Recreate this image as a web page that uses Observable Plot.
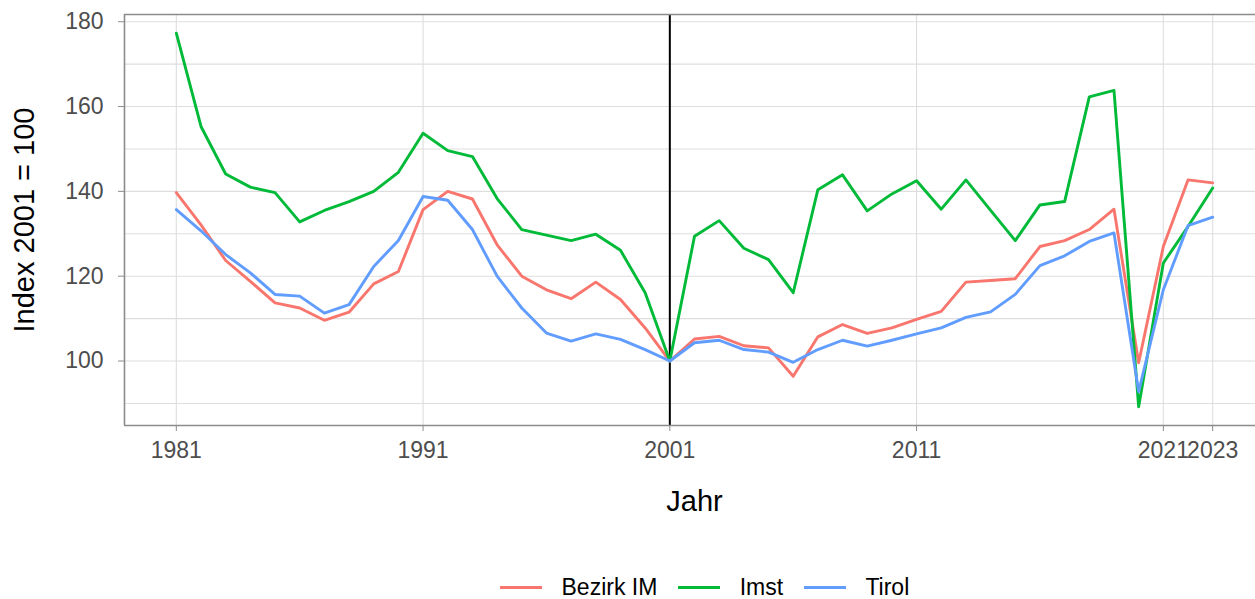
<!DOCTYPE html>
<html>
<head>
<meta charset="utf-8">
<script src="https://cdn.jsdelivr.net/npm/d3@7"></script>
<script src="https://cdn.jsdelivr.net/npm/@observablehq/plot@0.6"></script>
<style>
  html, body { margin: 0; padding: 0; background: #fff; overflow: hidden; }
  body { font-family: "Liberation Sans", Arial, sans-serif; width: 1255px; }
  #legend { position: relative; height: 59px; width: 1255px; }
  #legend .row { position: absolute; left: 500px; top: 35px; display: flex; align-items: center; height: 24px; }
  #legend .key { width: 42px; height: 3px; margin-right: 19.5px; }
  #legend .lab { font-size: 23px; line-height: 24px; color: #000; margin-right: 20.8px; white-space: nowrap; }
</style>
</head>
<body>
<div id="chart"></div>
<div id="legend"></div>
<script>
const years = [1981,1982,1983,1984,1985,1986,1987,1988,1989,1990,
               1991,1992,1993,1994,1995,1996,1997,1998,1999,2000,
               2001,2002,2003,2004,2005,2006,2007,2008,2009,2010,
               2011,2012,2013,2014,2015,2016,2017,2018,2019,2020,
               2021,2022,2023];
const seriesNames = ["Bezirk IM", "Imst", "Tirol"];
const bezirkIM = [139.7,132.1,123.7,118.8,113.7,112.5,109.6,111.5,118.2,121.1,
                  135.7,140.0,138.2,127.4,120.0,116.8,114.7,118.6,114.5,107.8,
                  100.0,105.2,105.8,103.6,103.1,96.4,105.7,108.6,106.5,107.8,
                  109.8,111.7,118.6,119.0,119.4,127.0,128.4,131.0,135.8,99.6,
                  127.0,142.7,142.0];
const imst = [177.3,155.3,144.1,141.0,139.7,132.8,135.5,137.6,140.0,144.5,
              153.7,149.6,148.2,138.3,131.0,129.7,128.4,129.9,126.1,116.1,
              100.0,129.4,133.1,126.6,123.9,116.1,140.4,143.9,135.4,139.4,
              142.5,135.8,142.7,135.5,128.4,136.8,137.6,162.3,163.8,89.2,
              123.1,131.7,140.8];
const tirol = [135.7,130.7,125.1,120.8,115.7,115.3,111.3,113.3,122.3,128.4,
               138.8,137.9,131.0,120.0,112.5,106.6,104.7,106.4,105.1,102.7,
               100.0,104.3,104.9,102.7,102.1,99.7,102.7,104.9,103.5,104.9,
               106.4,107.8,110.3,111.6,115.7,122.5,124.8,128.2,130.2,92.8,
               116.8,131.9,133.9];
const seriesColors = ["#F8766D", "#00BA38", "#619CFF"];
const xTicks = [1981, 1991, 2001, 2011, 2021, 2023];
const yTicks = [100, 120, 140, 160, 180];
const yMinor = [90, 110, 130, 150, 170];
const refYear = 2001;
const xTitle = "Jahr";
const yTitle = "Index 2001 = 100";

const seriesValues = [bezirkIM, imst, tirol];
const data = [];
seriesNames.forEach((s, i) => {
  years.forEach((yr, j) => data.push({series: s, year: yr, value: seriesValues[i][j]}));
});

// ggplot-like 5% expansion
const xExt = d3.extent(years);
const xPad = (xExt[1] - xExt[0]) * 0.05;
const xDomain = [xExt[0] - xPad, xExt[1] + xPad];
const yExt = d3.extent(data, d => d.value);
const yPad = (yExt[1] - yExt[0]) * 0.05;
const yDomain = [yExt[0] - yPad, yExt[1] + yPad];

const W = 1255, H = 540, mL = 124, mT = 14, mB = 115;
const panelRight = 1264; // the reference panel runs past the image edge
const gridColor = "#dedede";
const borderColor = "#8c8c8c";

const chart = Plot.plot({
  width: W,
  height: H,
  marginLeft: mL,
  marginRight: 0,
  marginTop: mT,
  marginBottom: mB,
  style: {fontFamily: "'Liberation Sans', Arial, sans-serif", background: "#fff", overflow: "hidden"},
  x: {domain: xDomain, range: [mL, panelRight]},
  y: {domain: yDomain},
  color: {domain: seriesNames, range: seriesColors},
  marks: [
    Plot.ruleY(yMinor.concat(yTicks), {stroke: gridColor, strokeWidth: 1.1}),
    Plot.ruleX(xTicks, {stroke: gridColor, strokeWidth: 1.1}),
    Plot.ruleX([refYear], {stroke: "#000", strokeWidth: 2}),
    Plot.line(data, {x: "year", y: "value", z: "series", stroke: "series", strokeWidth: 2.9}),
    Plot.ruleY([yDomain[0], yDomain[1]], {stroke: borderColor, strokeWidth: 1.6}),
    Plot.ruleX([xDomain[0]], {stroke: borderColor, strokeWidth: 1.6}),
    Plot.axisY({ticks: yTicks, tickSize: 6, tickPadding: 15, fontSize: 23, color: "#4d4d4d", stroke: borderColor, label: null}),
    Plot.axisX({ticks: xTicks, tickSize: 6, tickPadding: 10, fontSize: 23, color: "#4d4d4d", stroke: borderColor, tickFormat: d => String(d), label: null}),
    Plot.text([yTitle], {text: d => d, frameAnchor: "left", textAnchor: "middle", lineAnchor: "middle", dx: -100, rotate: -90, fontSize: 29, fill: "#000"}),
    Plot.text([xTitle], {text: d => d, x: (xDomain[0] + xDomain[1]) / 2, frameAnchor: "bottom", textAnchor: "middle", lineAnchor: "middle", dy: 76, fontSize: 29, fill: "#000"})
  ]
});
document.getElementById("chart").appendChild(chart);

// legend
const row = document.createElement("div");
row.className = "row";
seriesNames.forEach((s, i) => {
  const k = document.createElement("div");
  k.className = "key";
  k.style.background = seriesColors[i];
  const t = document.createElement("div");
  t.className = "lab";
  t.textContent = s;
  row.appendChild(k);
  row.appendChild(t);
});
document.getElementById("legend").appendChild(row);
</script>
</body>
</html>
